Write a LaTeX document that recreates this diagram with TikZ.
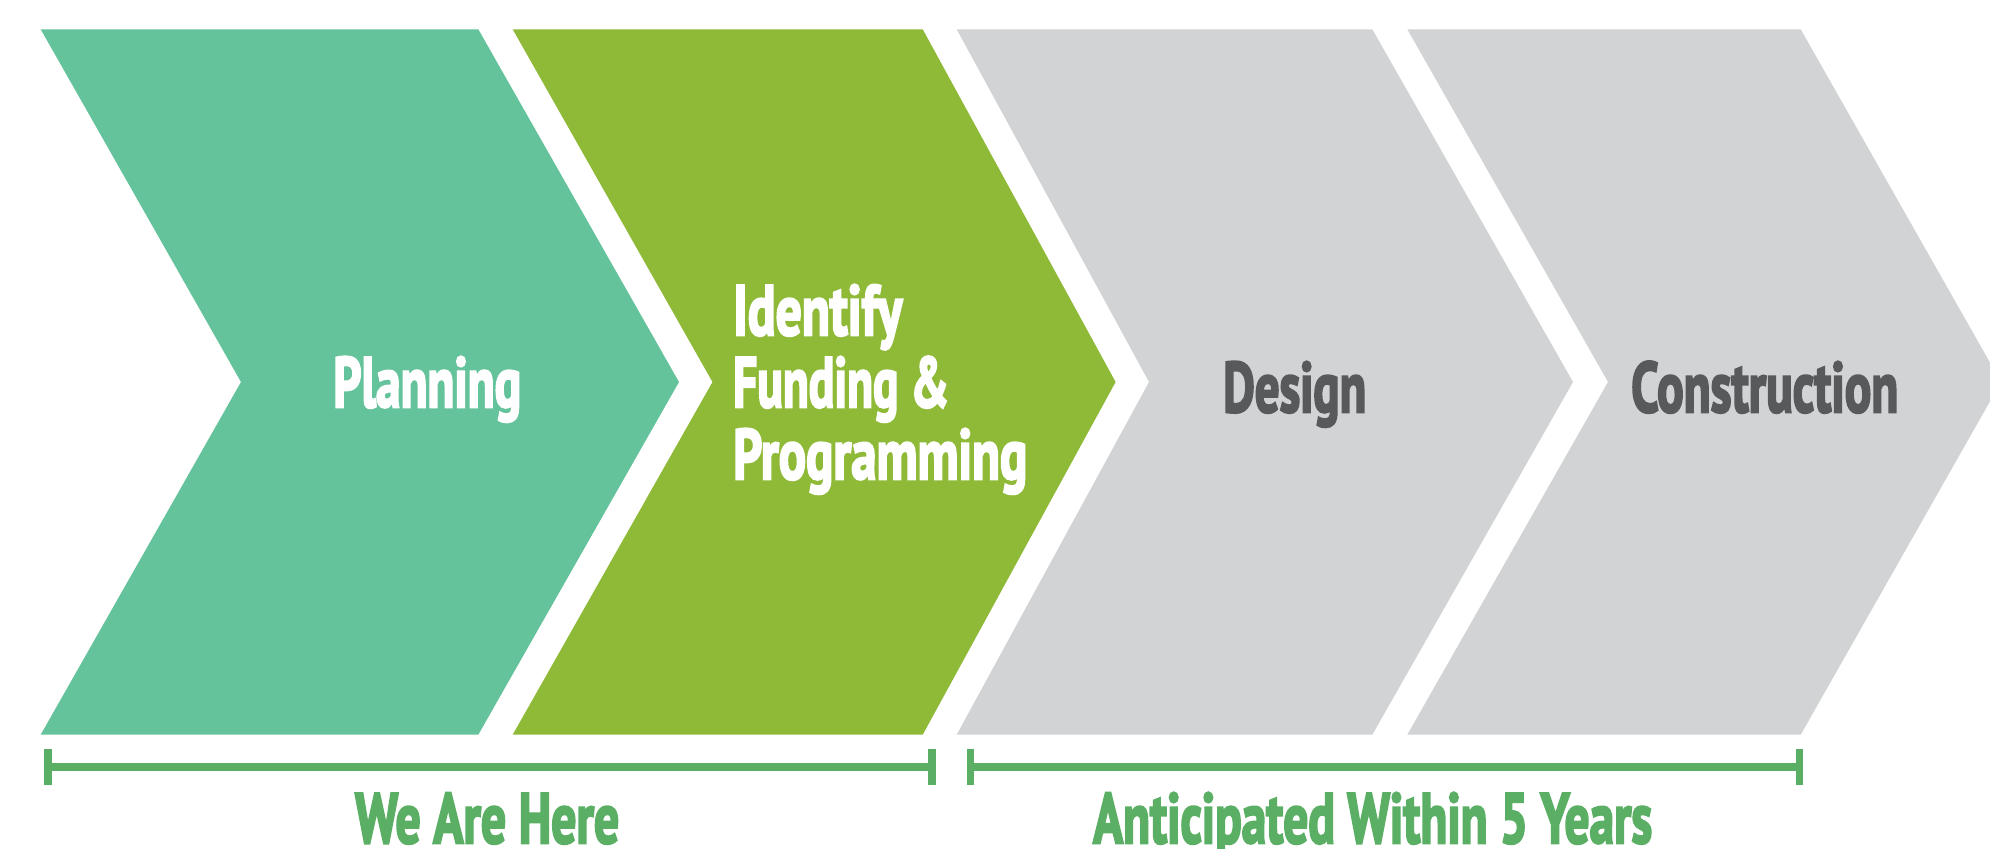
\documentclass[tikz,border=0pt]{standalone}
\usepackage{fontspec}
\usepackage{graphicx}
\setmainfont{PT Sans}[BoldFeatures={FakeBold=3.5}]
\definecolor{cTeal}{HTML}{65C39B}
\definecolor{cGreen}{HTML}{8FBA38}
\definecolor{cGray}{HTML}{D1D3D4}
\definecolor{cDark}{HTML}{58595B}
\definecolor{cBar}{HTML}{5AAF64}
\newsavebox\fitbox
\newlength\fitlen
\newcommand\fitw[2]{\sbox\fitbox{#2}\setlength\fitlen{\wd\fitbox}\pgfmathsetmacro\fitsx{#1/\fitlen}\scalebox{\fitsx}[1]{\usebox\fitbox}}
\tikzset{
  lab/.style={font=\fontsize{71}{72}\selectfont\bfseries, inner sep=0pt, anchor=base west},
  barline/.style={draw=cBar, line width=7.7pt},
  tickline/.style={draw=cBar, line width=7.5pt}
}
\begin{document}
\begin{tikzpicture}[x=1pt,y=-1pt]
\clip (0,0) rectangle (1990,849);
\fill[white] (0,0) rectangle (1990,849);
% chevrons
\fill[cTeal]  (40.7,29.3) -- (478.3,29.3) -- (679,382) -- (478.3,734.7) -- (40.7,734.7) -- (241,382) -- cycle;
\fill[cGreen] (512.7,29.3) -- (922.7,29.3) -- (1115.6,382) -- (922.7,734.7) -- (512.7,734.7) -- (712.5,382) -- cycle;
\fill[cGray]  (956.7,29.3) -- (1372.3,29.3) -- (1573,382) -- (1372.3,734.7) -- (956.7,734.7) -- (1149,382) -- cycle;
\fill[cGray]  (1407.3,29.3) -- (1800.7,29.3) -- (2001,382) -- (1800.7,734.7) -- (1407.3,734.7) -- (1608,382) -- cycle;
% labels
\node[lab, text=white] (planning) at (333,407) {\fitw{188}{Planning}};
\node[lab, text=white] (funding) at (733,335) {\vtop{\baselineskip=72pt\lineskiplimit=-1000pt
  \hbox{\fitw{169}{Identify}}\hbox{\fitw{216}{Funding \&}}\hbox{\fitw{294}{Programming}}}};
\node[lab, text=cDark] (design) at (1223,412) {\fitw{143}{Design}};
\node[lab, text=cDark] (construction) at (1631,412) {\fitw{267}{Construction}};
% brackets
\coordinate (b1l) at (48.2,767);
\coordinate (b1r) at (932.1,767);
\coordinate (b2l) at (970.5,767);
\coordinate (b2r) at (1799.6,767);
\draw[barline] (b1l) -- (b1r);
\draw[tickline] ([yshift=-17.5pt]b1l) -- ([yshift=18.5pt]b1l);
\draw[tickline] ([yshift=-17.5pt]b1r) -- ([yshift=18.5pt]b1r);
\draw[barline] (b2l) -- (b2r);
\draw[tickline] ([yshift=-17.5pt]b2l) -- ([yshift=18.5pt]b2l);
\draw[tickline] ([yshift=-17.5pt]b2r) -- ([yshift=18.5pt]b2r);
\node[lab, text=cBar, text depth=0pt] (here) at (355,843) {\fitw{264}{We Are Here}};
\node[lab, text=cBar, text depth=0pt] (antic) at (1093,843) {\fitw{559}{Anticipated Within 5 Years}};
\end{tikzpicture}
\end{document}
